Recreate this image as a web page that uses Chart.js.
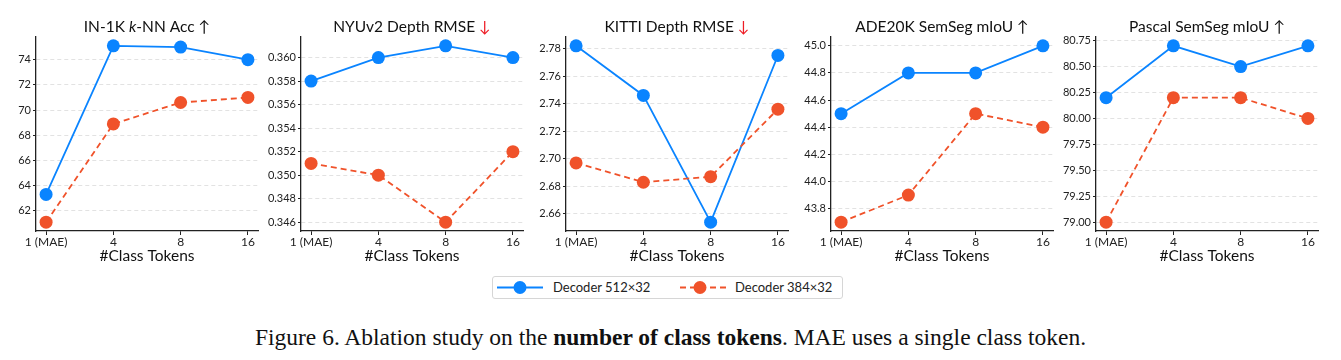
<!DOCTYPE html>
<html>
<head>
<meta charset="utf-8">
<script src="https://cdn.jsdelivr.net/npm/chart.js@4.4.1/dist/chart.umd.min.js"></script>
<style>
  html, body { margin: 0; padding: 0; background: #fff; }
  body { width: 1341px; height: 360px; position: relative; overflow: hidden; font-family: Lato, "DejaVu Sans", sans-serif; }
  .panel { position: absolute; top: 0; width: 265px; height: 265px; }
  #legend { position: absolute; left: 492px; top: 276px; width: 349px; height: 21px; border: 1px solid #d6d6d6; border-radius: 3px; box-sizing: content-box; font-family: Lato, sans-serif; font-size: 13px; color: #222; }
  #legend .item { position: absolute; top: 0; height: 21px; line-height: 21px; white-space: nowrap; }
  #legend svg { position: absolute; top: 0; }
  #caption { position: absolute; left: 0; top: 324px; width: 1341px; text-align: center; font-family: "Liberation Serif", "Times New Roman", serif; font-size: 23.5px; line-height: 27px; color: #111; white-space: nowrap; }
</style>
</head>
<body>
<canvas id="c0" class="panel" width="265" height="265" style="left:0px"></canvas>
<canvas id="c1" class="panel" width="265" height="265" style="left:265px"></canvas>
<canvas id="c2" class="panel" width="265" height="265" style="left:530px"></canvas>
<canvas id="c3" class="panel" width="265" height="265" style="left:795px"></canvas>
<canvas id="c4" class="panel" width="265" height="265" style="left:1060px"></canvas>

<div id="legend">
  <svg width="60" height="21" style="left:3px"><line x1="1" y1="10.5" x2="47" y2="10.5" stroke="#0a84ff" stroke-width="1.8"/><circle cx="24" cy="10.5" r="6.5" fill="#0a84ff"/></svg>
  <div class="item" style="left:60px">Decoder 512×32</div>
  <svg width="60" height="21" style="left:186px"><line x1="1" y1="10.5" x2="47" y2="10.5" stroke="#f0522a" stroke-width="1.8" stroke-dasharray="6,4"/><circle cx="21" cy="10.5" r="6.5" fill="#f0522a"/></svg>
  <div class="item" style="left:242px">Decoder 384×32</div>
</div>

<div id="caption">Figure 6. Ablation study on the <b>number of class tokens</b>. MAE uses a single class token.</div>

<script>
// ---------- data ----------
const categories = ['1 (MAE)', '4', '8', '16'];
const seriesNames = ['Decoder 512×32', 'Decoder 384×32'];
const xAxisTitle = '#Class Tokens';

const in1kBlue   = [63.3, 75.1, 75.0, 74.0];
const in1kOrange = [61.1, 68.9, 70.6, 71.0];
const in1kTicks  = [62, 64, 66, 68, 70, 72, 74];

const nyuBlue    = [0.358, 0.360, 0.361, 0.360];
const nyuOrange  = [0.351, 0.350, 0.346, 0.352];
const nyuTicks   = [0.346, 0.348, 0.350, 0.352, 0.354, 0.356, 0.358, 0.360];

const kittiBlue   = [2.782, 2.746, 2.654, 2.775];
const kittiOrange = [2.697, 2.683, 2.687, 2.736];
const kittiTicks  = [2.66, 2.68, 2.70, 2.72, 2.74, 2.76, 2.78];

const adeBlue    = [44.5, 44.8, 44.8, 45.0];
const adeOrange  = [43.7, 43.9, 44.5, 44.4];
const adeTicks   = [43.8, 44.0, 44.2, 44.4, 44.6, 44.8, 45.0];

const pascalBlue   = [80.2, 80.7, 80.5, 80.7];
const pascalOrange = [79.0, 80.2, 80.2, 80.0];
const pascalTicks  = [79.00, 79.25, 79.50, 79.75, 80.00, 80.25, 80.50, 80.75];

const tickDecimals = [0, 3, 2, 1, 2];

// titles as text segments (style flags only)
const titleIN1K   = [{ t: 'IN-1K ' }, { t: 'k', italic: true }, { t: '-NN Acc ' }, { t: '↑' }];
const titleNYU    = [{ t: 'NYUv2 Depth RMSE ' }, { t: '↓', red: true }];
const titleKITTI  = [{ t: 'KITTI Depth RMSE ' }, { t: '↓', red: true }];
const titleADE    = [{ t: 'ADE20K SemSeg mIoU ' }, { t: '↑' }];
const titlePascal = [{ t: 'Pascal SemSeg mIoU ' }, { t: '↑' }];

// ---------- drawing ----------
const BLUE = '#0a84ff';
const ORANGE = '#f0522a';
const TEXT = '#222';
const FONT = 'Lato, "DejaVu Sans", sans-serif';

const panels = [
  { id: 'c0', blue: in1kBlue,   orange: in1kOrange,   ticks: in1kTicks,   title: titleIN1K,   dec: tickDecimals[0] },
  { id: 'c1', blue: nyuBlue,    orange: nyuOrange,    ticks: nyuTicks,    title: titleNYU,    dec: tickDecimals[1] },
  { id: 'c2', blue: kittiBlue,  orange: kittiOrange,  ticks: kittiTicks,  title: titleKITTI,  dec: tickDecimals[2] },
  { id: 'c3', blue: adeBlue,    orange: adeOrange,    ticks: adeTicks,    title: titleADE,    dec: tickDecimals[3] },
  { id: 'c4', blue: pascalBlue, orange: pascalOrange, ticks: pascalTicks, title: titlePascal, dec: tickDecimals[4] },
];

const titlePlugin = {
  id: 'segTitle',
  afterDraw(chart, args, opts) {
    const segs = opts.segments || [];
    const ctx = chart.ctx;
    const size = 15.5;
    ctx.save();
    ctx.textBaseline = 'middle';
    const fontOf = s => (s.italic ? 'italic ' : '') + size + 'px ' + FONT;
    let total = 0;
    segs.forEach(s => { ctx.font = fontOf(s); total += ctx.measureText(s.t).width; });
    const ca = chart.chartArea;
    let x = (ca.left + ca.right) / 2 - total / 2;
    const y = 27;
    segs.forEach(s => {
      ctx.font = fontOf(s);
      ctx.fillStyle = s.red ? '#ee1c25' : '#111';
      ctx.fillText(s.t, x, y);
      x += ctx.measureText(s.t).width;
    });
    ctx.restore();
  }
};

function pad(arrA, arrB) {
  const all = arrA.concat(arrB);
  const lo = Math.min(...all), hi = Math.max(...all);
  const m = (hi - lo) * 0.05;
  return [lo - m, hi + m];
}

panels.forEach(p => {
  const [ymin, ymax] = pad(p.blue, p.orange);
  new Chart(document.getElementById(p.id), {
    type: 'line',
    data: {
      datasets: [
        {
          label: seriesNames[0],
          data: p.blue.map((v, i) => ({ x: i, y: v })),
          borderColor: BLUE, backgroundColor: BLUE,
          borderWidth: 1.8, pointRadius: 6.5, pointBorderWidth: 0,
          pointBackgroundColor: BLUE, tension: 0, clip: false, order: 1
        },
        {
          label: seriesNames[1],
          data: p.orange.map((v, i) => ({ x: i, y: v })),
          borderColor: ORANGE, backgroundColor: ORANGE,
          borderWidth: 1.8, borderDash: [6, 4], pointRadius: 6.5, pointBorderWidth: 0,
          pointBackgroundColor: ORANGE, tension: 0, clip: false, order: 0
        }
      ]
    },
    options: {
      responsive: false,
      animation: false,
      events: [],
      layout: { padding: { top: 37, right: 7, left: 0, bottom: 0 } },
      plugins: {
        legend: { display: false },
        tooltip: { enabled: false },
        segTitle: { segments: p.title }
      },
      scales: {
        x: {
          type: 'linear',
          min: -0.15, max: 3.15,
          afterBuildTicks: s => { s.ticks = categories.map((c, i) => ({ value: i })); },
          afterFit: s => { s.height = 34; },
          ticks: {
            callback: v => categories[v],
            color: TEXT, font: { family: FONT, size: 12 }, padding: 0,
            autoSkip: false, maxRotation: 0
          },
          grid: { drawOnChartArea: false, drawTicks: true, tickLength: 4, color: '#222', lineWidth: 1 },
          border: { color: '#222', width: 1.3 },
          title: { display: true, text: xAxisTitle, color: '#111', font: { family: FONT, size: 15.5 }, padding: { top: 0, bottom: 0 } }
        },
        y: {
          type: 'linear',
          min: ymin, max: ymax,
          afterBuildTicks: s => { s.ticks = p.ticks.map(v => ({ value: v })); },
          afterFit: s => { s.width = 36; },
          ticks: {
            callback: v => Number(v).toFixed(p.dec),
            color: TEXT, font: { family: FONT, size: 11 }, padding: 2
          },
          grid: { color: '#e2e2e2', lineWidth: 1, tickColor: '#222', tickLength: 3, tickBorderDash: [], tickWidth: 1 },
          border: { color: '#222', width: 1.3, dash: [4, 3] }
        }
      }
    },
    plugins: [titlePlugin]
  });
});
</script>
</body>
</html>
